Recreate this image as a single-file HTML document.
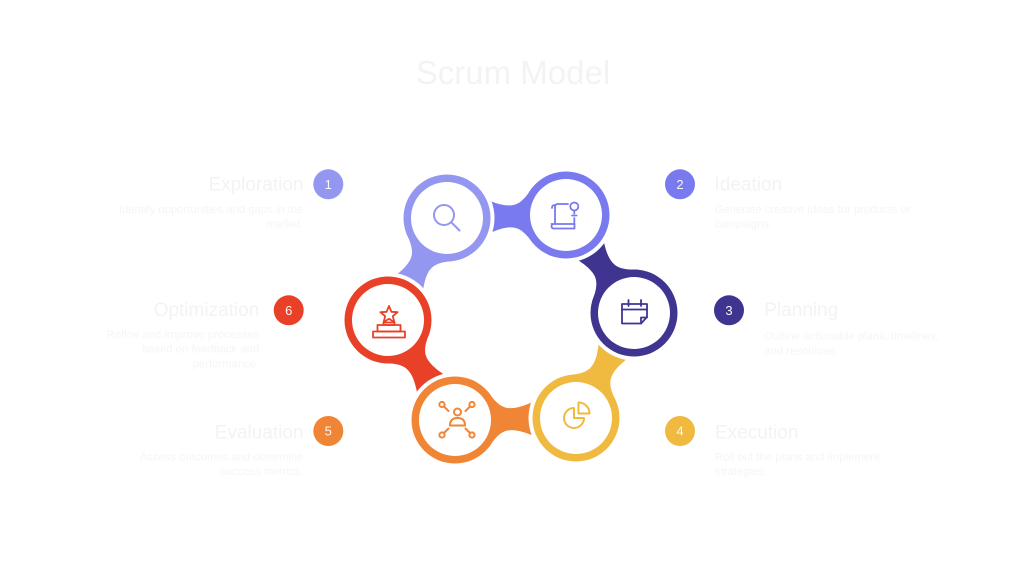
<!DOCTYPE html>
<html><head><meta charset="utf-8"><style>
html,body{margin:0;padding:0;background:#fff;}
svg{display:block;}
text{font-family:"Liberation Sans",Arial,sans-serif;}
</style></head><body>
<svg width="1024" height="576" viewBox="0 0 1024 576" xmlns="http://www.w3.org/2000/svg">
<rect width="1024" height="576" fill="#ffffff"/>
<defs>
<path id="tail" d="M33.3,-28 C42,-15 48,-11 56,-11 C64,-11 72,-14 90,-22 L125,-22 L125,22 L90,22 C72,14 64,11 56,11 C48,11 42,15 33.3,28 Z"/>
<mask id="mE" maskUnits="userSpaceOnUse" x="0" y="0" width="1024" height="576"><rect width="1024" height="576" fill="#fff"/><circle cx="447" cy="218" r="47.5" fill="#000"/></mask>
<mask id="mI" maskUnits="userSpaceOnUse" x="0" y="0" width="1024" height="576"><rect width="1024" height="576" fill="#fff"/><circle cx="566" cy="215" r="47.5" fill="#000"/></mask>
<mask id="mP" maskUnits="userSpaceOnUse" x="0" y="0" width="1024" height="576"><rect width="1024" height="576" fill="#fff"/><circle cx="634" cy="313" r="47.5" fill="#000"/></mask>
<mask id="mX" maskUnits="userSpaceOnUse" x="0" y="0" width="1024" height="576"><rect width="1024" height="576" fill="#fff"/><circle cx="576" cy="418" r="47.5" fill="#000"/></mask>
<mask id="mV" maskUnits="userSpaceOnUse" x="0" y="0" width="1024" height="576"><rect width="1024" height="576" fill="#fff"/><circle cx="455" cy="420" r="47.5" fill="#000"/></mask>
<mask id="mO" maskUnits="userSpaceOnUse" x="0" y="0" width="1024" height="576"><rect width="1024" height="576" fill="#fff"/><circle cx="388" cy="320" r="47.5" fill="#000"/></mask>
</defs>

<!-- Title -->
<text x="513" y="84" font-size="33" fill="#f3f3f3" text-anchor="middle">Scrum Model</text>

<!-- Tails -->
<g mask="url(#mO)"><use href="#tail" transform="translate(447,218) rotate(120)" fill="#9497f0"/></g>
<g mask="url(#mE)"><use href="#tail" transform="translate(566,215) rotate(178.6)" fill="#787aed"/></g>
<g mask="url(#mI)"><use href="#tail" transform="translate(634,313) rotate(-124.8)" fill="#3f3591"/></g>
<g mask="url(#mP)"><use href="#tail" transform="translate(576,418) rotate(-61.1)" fill="#f0b940"/></g>
<g mask="url(#mX)"><use href="#tail" transform="translate(455,420) rotate(-0.9)" fill="#ef8535"/></g>
<g mask="url(#mV)"><use href="#tail" transform="translate(388,320) rotate(56.2)" fill="#e94028"/></g>

<!-- Circles -->
<circle cx="447" cy="218" r="43.5" fill="#9497f0"/><circle cx="447" cy="218" r="36" fill="#fff"/>
<circle cx="566" cy="215" r="43.5" fill="#787aed"/><circle cx="566" cy="215" r="36" fill="#fff"/>
<circle cx="634" cy="313" r="43.5" fill="#3f3591"/><circle cx="634" cy="313" r="36" fill="#fff"/>
<circle cx="576" cy="418" r="43.5" fill="#f0b940"/><circle cx="576" cy="418" r="36" fill="#fff"/>
<circle cx="455" cy="420" r="43.5" fill="#ef8535"/><circle cx="455" cy="420" r="36" fill="#fff"/>
<circle cx="388" cy="320" r="43.5" fill="#e94028"/><circle cx="388" cy="320" r="36" fill="#fff"/>

<!-- Icons -->
<g fill="none" stroke="#9497f0" stroke-width="2" stroke-linecap="round">
<circle cx="444" cy="215" r="10"/>
<line x1="451.5" y1="222.5" x2="459.5" y2="230.5"/>
</g>
<g fill="none" stroke="#787aed" stroke-width="1.8" stroke-linecap="round" stroke-linejoin="round">
<path d="M555,223 L555,207 Q555,204 558,204 L568,204"/>
<path d="M555,205 Q552,205 552,208"/>
<path d="M551.5,224 L574.5,224 L574.5,228.5 L554,228.5 Q551.5,228.5 551.5,226.2 Q551.5,224 554,224"/>
<circle cx="574.3" cy="206.5" r="4"/>
<line x1="574.3" y1="210.5" x2="574.3" y2="213.5"/>
<line x1="572" y1="215.5" x2="576.6" y2="215.5"/>
<line x1="574.3" y1="218" x2="574.3" y2="224"/>
</g>
<g fill="none" stroke="#3f3591" stroke-width="1.8" stroke-linecap="round" stroke-linejoin="round">
<path d="M647,317 L647,304 L622,304 L622,323.5 L641,323.5 Z"/>
<path d="M641,323.5 L641,317.5 L647,317.5"/>
<line x1="622" y1="309.5" x2="647" y2="309.5"/>
<line x1="628.5" y1="300" x2="628.5" y2="306"/>
<line x1="641" y1="300" x2="641" y2="306"/>
</g>
<g fill="none" stroke="#f0b940" stroke-width="2" stroke-linejoin="round">
<path d="M574,418 L584,418 A10,10 0 1 1 574,408 Z"/>
<path d="M578.5,413.5 L578.5,402.5 A11,11 0 0 1 589.5,413.5 Z"/>
</g>
<g fill="none" stroke="#ef8535" stroke-width="2" stroke-linecap="round">
<circle cx="457.5" cy="412" r="3.5"/>
<path d="M450,425.5 Q450,418 457.5,418 Q465,418 465,425.5 Z"/>
<circle cx="442" cy="404.5" r="2.6"/>
<circle cx="472" cy="404.5" r="2.6"/>
<circle cx="442" cy="435" r="2.6"/>
<circle cx="472" cy="435" r="2.6"/>
<line x1="444.5" y1="407" x2="448.5" y2="411"/>
<line x1="469.5" y1="407" x2="465.5" y2="411"/>
<line x1="444.5" y1="432.5" x2="448.5" y2="428.5"/>
<line x1="469.5" y1="432.5" x2="465.5" y2="428.5"/>
</g>
<g fill="none" stroke="#e94028" stroke-width="1.8" stroke-linejoin="round">
<path d="M389,306 L391.4,311.8 L397.6,312.2 L392.8,316.2 L394.4,322.2 L389,318.8 L383.6,322.2 L385.2,316.2 L380.4,312.2 L386.6,311.8 Z"/>
<rect x="383.5" y="322.5" width="11" height="2.5"/>
<rect x="377.5" y="325" width="23" height="6.5"/>
<rect x="373" y="331.5" width="32" height="6"/>
</g>

<!-- Badges -->
<g font-size="13" fill="#f7f7f7" text-anchor="middle">
<circle cx="328.3" cy="184.3" r="15" fill="#9497f0"/><text x="328.3" y="189">1</text>
<circle cx="680" cy="184.3" r="15" fill="#787aed"/><text x="680" y="189">2</text>
<circle cx="729" cy="310.3" r="15" fill="#3f3591"/><text x="729" y="315">3</text>
<circle cx="680" cy="431" r="15" fill="#f0b940"/><text x="680" y="435.7">4</text>
<circle cx="328.3" cy="431" r="15" fill="#ef8535"/><text x="328.3" y="435.7">5</text>
<circle cx="288.7" cy="310.3" r="15" fill="#e94028"/><text x="288.7" y="315">6</text>
</g>

<!-- Labels left -->
<g text-anchor="end">
<text x="303.5" y="190.5" font-size="19" fill="#f3f3f3">Exploration</text>
<text x="303.5" y="213" font-size="11.3" fill="#f5f5f5">Identify opportunities and gaps in the</text>
<text x="303.5" y="227.5" font-size="11.3" fill="#f5f5f5">market.</text>

<text x="259.3" y="316" font-size="19" fill="#f3f3f3">Optimization</text>
<text x="259.3" y="338" font-size="11.3" fill="#f5f5f5">Refine and improve processes</text>
<text x="259.3" y="352.7" font-size="11.3" fill="#f5f5f5">based on feedback and</text>
<text x="259.3" y="367.3" font-size="11.3" fill="#f5f5f5">performance.</text>

<text x="303.5" y="438.3" font-size="19" fill="#f3f3f3">Evaluation</text>
<text x="303.5" y="460.7" font-size="11.3" fill="#f5f5f5">Assess outcomes and determine</text>
<text x="303.5" y="475" font-size="11.3" fill="#f5f5f5">success metrics.</text>
</g>

<!-- Labels right -->
<g text-anchor="start">
<text x="714.5" y="190.5" font-size="19" fill="#f3f3f3">Ideation</text>
<text x="714.5" y="213" font-size="11.3" fill="#f5f5f5">Generate creative ideas for products or</text>
<text x="714.5" y="227.5" font-size="11.3" fill="#f5f5f5">campaigns.</text>

<text x="764.3" y="316" font-size="19" fill="#f3f3f3">Planning</text>
<text x="764.3" y="339.7" font-size="11.3" fill="#f5f5f5">Outline actionable plans, timelines,</text>
<text x="764.3" y="354.3" font-size="11.3" fill="#f5f5f5">and resources.</text>

<text x="715" y="438.3" font-size="19" fill="#f3f3f3">Execution</text>
<text x="715" y="460.7" font-size="11.3" fill="#f5f5f5">Roll out the plans and implement</text>
<text x="715" y="475" font-size="11.3" fill="#f5f5f5">strategies.</text>
</g>
</svg>
</body></html>
